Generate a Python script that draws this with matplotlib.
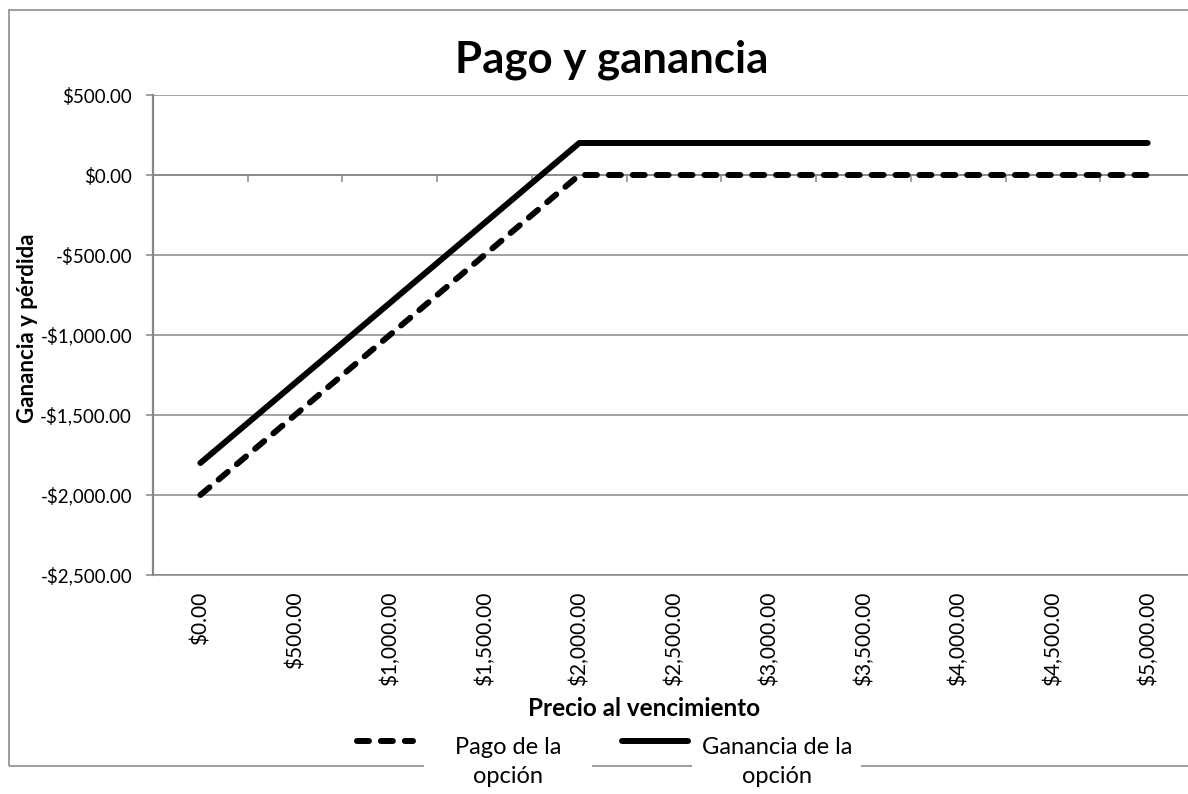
import matplotlib.pyplot as plt
from matplotlib.patches import Rectangle
from matplotlib.lines import Line2D
from matplotlib.ticker import FuncFormatter, FixedLocator

precios = [0, 500, 1000, 1500, 2000, 2500, 3000, 3500, 4000, 4500, 5000]
pago = [-2000, -1500, -1000, -500, 0, 0, 0, 0, 0, 0, 0]
ganancia = [-1800, -1300, -800, -300, 200, 200, 200, 200, 200, 200, 200]
y_ticks = [-2500, -2000, -1500, -1000, -500, 0, 500]
series = ['Pago de la\nopción', 'Ganancia de la\nopción']

plt.rcParams['font.family'] = ['Lato', 'DejaVu Sans']
gris = '#878787'
W, H = 1188, 794


def dinero(v, pos=None):
    if v < 0:
        return f'-${abs(v):,.2f}'
    return f'${v:,.2f}'


def fx(px):
    return px / W


def fy(py):
    return 1 - py / H


fig = plt.figure(figsize=(W / 100, H / 100), dpi=100)

# marco exterior del grafico (cortado a la derecha)
fig.patches.append(Rectangle((fx(9), fy(766)), 1.2, (766 - 10) / H,
                             transform=fig.transFigure, fill=False,
                             edgecolor='#8c8c8c', linewidth=1.2, zorder=0))

ax = fig.add_axes([fx(153), fy(575), (1195 - 153) / W, 480 / H])
ax.set_facecolor('none')
x = list(range(len(precios)))

estilo_pago = dict(color='black', linewidth=4.3, dashes=(2, 2), dash_capstyle='round')
estilo_gan = dict(color='black', linewidth=4.3, solid_capstyle='round')
ax.plot(x, pago, zorder=3, **estilo_pago)
ax.plot(x, ganancia, zorder=3, **estilo_gan)

ax.set_xlim(-0.5, len(precios) - 0.5)
ax.set_ylim(-2500, 500)
ax.set_yticks(y_ticks)
ax.yaxis.set_major_formatter(FuncFormatter(dinero))
ax.grid(axis='y', color=gris, linewidth=1.1)
ax.set_axisbelow(True)

ax.set_xticks(x)
ax.set_xticklabels([dinero(p) for p in precios], rotation=90, va='top')
ax.tick_params(axis='x', length=0, pad=12, labelsize=15)
ax.tick_params(axis='y', length=5, width=1.1, color=gris, pad=10, labelsize=13.5)

for s in ['top', 'right']:
    ax.spines[s].set_visible(False)
ax.spines['bottom'].set_color(gris)
ax.spines['bottom'].set_linewidth(1.1)
ax.spines['left'].set_color(gris)
ax.spines['left'].set_linewidth(1.6)

# eje horizontal que cruza en cero, con marcas entre categorias
sec = ax.secondary_xaxis(0, transform=ax.transData)
sec.xaxis.set_major_locator(FixedLocator([i + 0.5 for i in range(len(precios) - 1)]))
sec.xaxis.set_major_formatter(FuncFormatter(lambda v, p: ''))
sec.tick_params(axis='x', direction='out', length=5, width=1.1, color=gris)
sec.spines['bottom'].set_color(gris)
sec.spines['bottom'].set_linewidth(1.1)

fig.text(fx(612), fy(72), 'Pago y ganancia', ha='center',
         va='baseline', fontsize=31.5, fontweight='bold')
fig.text(fx(644), fy(708), 'Precio al vencimiento', ha='center',
         va='center', fontsize=17.5, fontweight='bold')
fig.text(fx(28), fy(328), 'Ganancia y pérdida', ha='center',
         va='center', rotation=90, fontsize=16, fontweight='bold')

# leyenda
for x0, x1 in [(424, 592), (692, 861)]:
    fig.patches.append(Rectangle((fx(x0), fy(772)), fx(x1 - x0), 12 / H,
                                 transform=fig.transFigure, facecolor='white',
                                 edgecolor='none', zorder=1))
fig.add_artist(Line2D([fx(357), fx(413)], [fy(741), fy(741)],
                      transform=fig.transFigure, **estilo_pago))
fig.add_artist(Line2D([fx(622), fx(688)], [fy(741), fy(741)],
                      transform=fig.transFigure, **estilo_gan))
for cx, label in zip([508, 777], series):
    fig.text(fx(cx), fy(762), label, ha='center', va='center',
             multialignment='center', fontsize=17, linespacing=1.45, zorder=2)

fig.savefig('out.png', dpi=100)
